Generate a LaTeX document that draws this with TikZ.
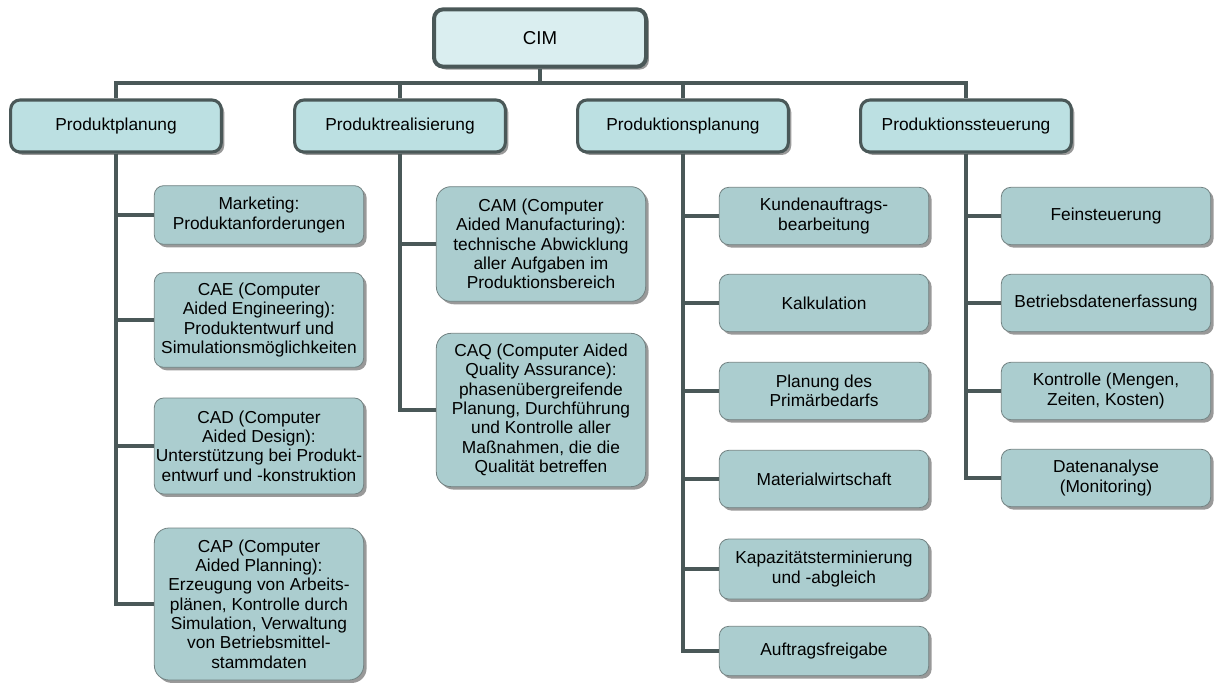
\documentclass[tikz,border=0pt]{standalone}
\usepackage{fontspec}
\setmainfont{Liberation Sans}
\usetikzlibrary{shadows}

\definecolor{cimfill}{HTML}{DAEEF0}
\definecolor{areafill}{HTML}{BCE0E2}
\definecolor{taskfill}{HTML}{ABCDCF}
\definecolor{darkline}{HTML}{4A5858}
\definecolor{taskline}{HTML}{728282}

\tikzset{
  boxshadow/.style={drop shadow={shadow xshift=2.2pt, shadow yshift=-2.2pt, fill=black!40, opacity=1}},
  rootbox/.style={draw=darkline, line width=3pt, rounded corners=7pt, fill=cimfill, boxshadow,
    minimum width=159pt, minimum height=43pt, align=center, font=\fontsize{14pt}{16pt}\selectfont},
  areabox/.style={draw=darkline, line width=2.3pt, rounded corners=7pt, fill=areafill, boxshadow,
    minimum width=158pt, minimum height=39pt, align=center},
  taskbox/.style={draw=taskline, line width=0.6pt, rounded corners=7pt, fill=taskfill, boxshadow,
    minimum width=157pt, align=center, inner sep=1pt},
  conn/.style={draw=darkline, line width=3pt}
}

\begin{document}
\begin{tikzpicture}[x=0.75pt, y=-0.75pt, font=\fontsize{13pt}{14.5pt}\selectfont]
  \useasboundingbox (0,0) rectangle (1214,686);

  % Wurzel und Bereiche
  \node[rootbox] (cim) at (540,38) {CIM};
  \coordinate (bus) at (540,83);

  \node[areabox] (pp) at (116,126) {Produktplanung};
  \node[areabox] (pr) at (400,126) {Produktrealisierung};
  \node[areabox] (pl) at (683,126) {Produktionsplanung};
  \node[areabox] (ps) at (966,126) {Produktionssteuerung};

  % Produktplanung
  \node[taskbox, minimum height=44pt] (mkt) at (259,215) {Marketing:\\Produktanforderungen};
  \node[taskbox, minimum height=71pt] (cae) at (259,320) {CAE (Computer\\Aided Engineering):\\Produktentwurf und\\Simulationsmöglichkeiten};
  \node[taskbox, minimum height=72pt] (cad) at (259,446) {CAD (Computer\\Aided Design):\\Unterstützung bei Produkt-\\entwurf und -konstruktion};
  \node[taskbox, minimum height=114pt, rounded corners=11pt] (cap) at (259,604) {CAP (Computer\\Aided Planning):\\Erzeugung von Arbeits-\\plänen, Kontrolle durch\\Simulation, Verwaltung\\von Betriebsmittel-\\stammdaten};

  % Produktrealisierung
  \node[taskbox, minimum height=86pt, rounded corners=11pt] (cam) at (541,244) {CAM (Computer\\Aided Manufacturing):\\technische Abwicklung\\aller Aufgaben im\\Produktionsbereich};
  \node[taskbox, minimum height=115pt, rounded corners=11pt] (caq) at (541,410) {CAQ (Computer Aided\\Quality Assurance):\\phasenübergreifende\\Planung, Durchführung\\und Kontrolle aller\\Maßnahmen, die die\\Qualität betreffen};

  % Produktionsplanung
  \node[taskbox, minimum height=43pt] (kab) at (824,216) {Kundenauftrags-\\bearbeitung};
  \node[taskbox, minimum height=43pt] (kal) at (824,303) {Kalkulation};
  \node[taskbox, minimum height=43pt] (pdp) at (824,391) {Planung des\\Primärbedarfs};
  \node[taskbox, minimum height=43pt] (mat) at (824,479) {Materialwirtschaft};
  \node[taskbox, minimum height=45pt] (kap) at (824,569) {Kapazitätsterminierung\\und -abgleich};
  \node[taskbox, minimum height=37pt] (afg) at (824,651) {Auftragsfreigabe};

  % Produktionssteuerung
  \node[taskbox, minimum height=43pt] (fst) at (1106,216) {Feinsteuerung};
  \node[taskbox, minimum height=43pt] (bde) at (1106,303) {Betriebsdatenerfassung};
  \node[taskbox, minimum height=43pt] (kon) at (1106,391) {Kontrolle (Mengen,\\Zeiten, Kosten)};
  \node[taskbox, minimum height=43pt] (dan) at (1106,478) {Datenanalyse\\(Monitoring)};

  % Verbindungen
  \draw[conn] (cim.south) -- (bus);
  \draw[conn] (pp.north) -- (pp |- bus) -- (ps |- bus) -- (ps.north);
  \draw[conn] (pr.north) -- (pr |- bus);
  \draw[conn] (pl.north) -- (pl |- bus);

  \foreach \t in {mkt,cae,cad,cap} \draw[conn] (pp.south) |- (\t.west);
  \foreach \t in {cam,caq} \draw[conn] (pr.south) |- (\t.west);
  \foreach \t in {kab,kal,pdp,mat,kap,afg} \draw[conn] (pl.south) |- (\t.west);
  \foreach \t in {fst,bde,kon,dan} \draw[conn] (ps.south) |- (\t.west);
\end{tikzpicture}
\end{document}
